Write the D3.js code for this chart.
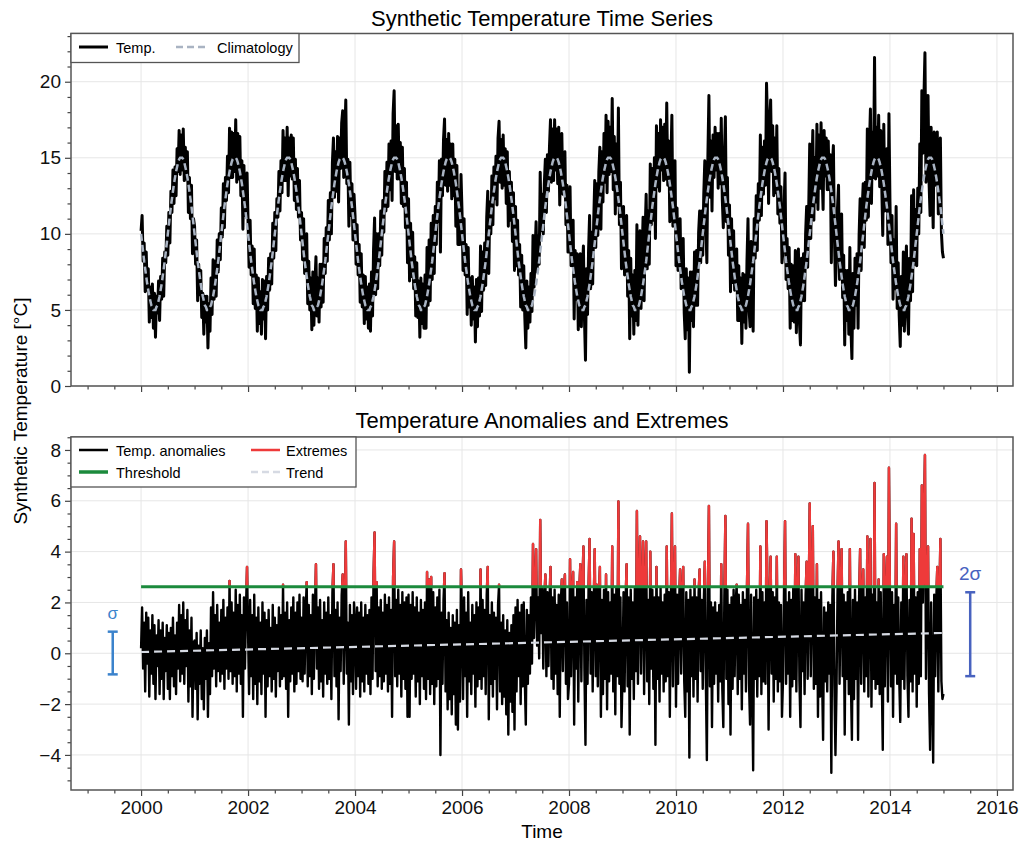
<!DOCTYPE html>
<html>
<head>
<meta charset="utf-8">
<script src="https://cdnjs.cloudflare.com/ajax/libs/d3/7.8.5/d3.min.js"></script>
<style>
    body { margin: 0; background: #ffffff; }
    svg { display: block; font-family: "Liberation Sans", Arial, Helvetica, sans-serif; }
</style>
</head>
<body>
<svg id="chart"></svg>
<script>
// weekly samples, 52 per year starting Jan 1
let startYear = 2000

// mean seasonal cycle (deg C), one value per week
let climatology = [
    10.0, 9.4, 8.8, 8.2, 7.7, 7.2, 6.7, 6.3, 5.9, 5.6, 5.3, 5.2, 5.0,
    5.0, 5.0, 5.2, 5.3, 5.6, 5.9, 6.3, 6.7, 7.2, 7.7, 8.2, 8.8, 9.4,
    10.0, 10.6, 11.2, 11.8, 12.3, 12.8, 13.3, 13.7, 14.1, 14.4, 14.7, 14.9, 15.0,
    15.0, 15.0, 14.9, 14.7, 14.4, 14.1, 13.7, 13.3, 12.8, 12.3, 11.8, 11.2, 10.6
]

// temperature anomalies, one row per year
let anomalies = [
    [0.2, 1.8, -0.6, 1.2, -1.5, 1.6, -0.4, 1.4, -1.7, 0.9, -0.8, 1.5, -1.2, 1.1, -1.8, 0.7, -0.5, 1.3, -1.6, 0.9, -1.0, 1.2, -1.8, 0.6, -0.7, 1.1, -1.4, 0.8, -1.8, 1.0, -0.9, 1.4, -1.3, 0.7, -1.6, 1.2, -0.6, 1.9, -1.1, 1.5, -0.8, 2.0, -1.2, 1.3, -0.5, 1.7, -1.9, 0.9, -1.3, 1.4, -2.5, 0.4],
    [0.5, -1.4, 0.8, -2.6, 0.3, -1.2, 0.9, -1.8, 0.2, -2.2, 0.6, -1.0, 0.9, -2.5, 0.4, -1.6, 1.8, -0.9, 2.4, -0.6, 1.5, -1.3, 1.9, -0.7, 1.2, -1.1, 1.7, -0.8, 2.1, -1.4, 1.4, -0.6, 1.8, -1.0, 2.85, -0.7, 2.0, -1.2, 1.6, -0.9, 2.5, -1.5, 1.9, -0.8, 2.3, -1.2, 1.5, -2.5, 2.2, -0.6, 1.8, 3.4],
    [0.8, -1.6, 2.1, -0.9, 1.5, -1.8, 2.3, -1.2, 1.4, -2.0, 1.8, -1.1, 1.2, -1.6, 2.0, -0.8, 1.6, -2.5, 1.3, -1.3, 1.7, -0.9, 1.0, -1.5, 1.9, -1.0, 1.4, -1.7, 1.1, -0.7, 1.8, -1.3, 1.5, -1.0, 2.7, -0.9, 1.6, -1.4, 2.0, -2.5, 1.3, -1.1, 1.8, -0.8, 2.2, -1.5, 1.6, -1.2, 2.0, -0.7, 2.3, -1.0],
    [1.4, -1.1, 2.2, -0.8, 1.6, 2.8, -1.3, 1.9, -0.9, 1.5, -1.6, 2.3, -1.0, 1.7, 3.5, -0.6, 1.8, -1.4, 2.1, -1.1, 1.3, -1.7, 2.0, -0.8, 1.6, -1.2, 2.2, -1.0, 1.5, -1.8, 2.4, 3.5, -0.9, 1.7, -1.3, 2.0, -2.6, 1.4, -0.7, 2.3, 3.1, -1.2, 1.6, 4.4, -0.8, 1.2, -2.8, 1.9, -1.1, 1.5, -1.6, 2.0],
    [1.2, -1.4, 1.8, -0.9, 1.6, -1.7, 2.0, -1.1, 1.4, -1.5, 1.9, -0.8, 1.5, -1.2, 1.7, -1.6, 2.2, -1.0, 3.1, 4.75, -0.7, 2.8, -1.3, 1.8, -0.9, 2.1, -1.4, 1.6, -1.1, 2.3, -0.8, 1.9, -1.5, 2.2, -1.2, 1.7, -2.5, 3.0, 4.4, -0.9, 2.1, -1.3, 2.5, -0.8, 1.9, -1.7, 2.4, -1.0, 2.0, -1.4, 2.2, -2.5],
    [2.3, -2.5, 1.9, -1.0, 2.4, -0.8, 1.8, -1.7, 2.2, -1.1, 1.6, -2.0, 2.1, -0.9, 1.7, -1.4, 2.0, -1.8, 3.2, -1.0, 2.9, -1.6, 3.0, -1.2, 2.4, -2.0, 1.8, -1.3, 2.2, -1.0, 2.5, -4.0, 1.6, -1.2, 2.1, 3.15, -1.5, 1.3, -2.2, 1.6, -1.8, 1.0, -2.4, 1.5, -1.6, 1.2, -2.8, 1.7, -3.0, 1.1, -1.9, 3.3],
    [1.4, -1.8, 2.2, -0.9, 1.6, -2.5, 2.4, -1.1, 1.2, -1.6, 1.9, -0.8, 1.5, -2.1, 2.0, -1.3, 1.8, -1.0, 3.3, -1.4, 2.1, -0.9, 1.7, -1.6, 2.3, 3.4, -2.6, 1.5, -1.2, 2.0, -1.7, 1.6, -1.0, 1.4, -2.2, 1.9, 2.7, -1.5, 1.2, -2.0, 1.5, -1.7, 0.9, -2.4, 1.3, -3.2, 0.8, -1.9, 1.1, -2.3, 1.5, -3.0],
    [1.8, -1.5, 2.1, -0.9, 1.6, -2.0, 1.9, -1.3, 2.0, -1.0, -2.8, 1.7, -1.2, 1.5, -0.8, 2.2, -0.4, 4.3, 0.6, 2.4, 4.1, 0.3, 2.2, -0.2, 5.25, 0.8, 2.6, -0.6, 2.1, 3.1, -0.9, 2.4, -0.5, 2.0, 3.4, -1.0, 2.2, -1.4, 2.5, -0.8, 1.9, -1.6, 2.3, -2.5, 2.0, 2.9, -0.7, 2.4, 3.1, -1.2, 2.0, -1.8],
    [-1.2, 3.7, -0.9, 2.4, 3.2, -2.8, 2.2, -0.6, 2.8, -1.9, 2.5, 3.5, -1.1, 2.6, 4.2, -0.7, -3.6, 2.1, -1.2, 2.6, 4.5, -0.8, 2.4, -1.5, 2.0, 4.1, -0.9, 2.7, -1.3, 2.3, 3.4, -2.5, 2.1, -1.6, 2.5, -1.0, 3.1, -2.2, 2.4, -1.1, 2.0, -0.8, 4.2, -1.5, 2.3, -2.4, 2.6, -0.9, 5.97, -1.2, 2.2, -2.9],
    [-0.9, 2.4, -1.5, 2.1, 3.5, -1.3, 2.2, -3.2, 2.5, -1.0, 2.0, -1.8, 2.6, -0.7, 5.6, -1.2, 2.3, 4.6, -0.8, 2.2, 4.4, -1.6, 2.4, 4.4, -1.1, 2.1, -2.0, 4.0, -0.6, 2.5, -1.4, 2.2, -3.6, 3.4, -1.0, 2.2, -1.9, 2.6, -0.8, 2.0, -1.5, 2.3, -1.1, 4.2, -0.9, 2.4, -2.5, 1.9, 5.5, -1.3, 2.5, 4.2],
    [-2.1, 2.3, -1.2, 2.0, 3.3, -0.8, 2.2, 3.4, -1.1, -2.5, 2.4, -1.5, 2.1, -4.1, 2.5, -0.9, 2.2, -1.7, 2.9, -1.0, 2.2, -1.9, 2.4, 3.3, -0.7, 2.1, -1.4, 2.0, 3.6, -1.0, -4.2, 2.3, 5.8, -1.3, 2.0, -2.9, 1.8, -1.2, 2.0, -0.8, 1.6, -1.9, 1.9, -1.1, 3.5, -1.4, -2.9, 2.2, 5.4, -1.0, 2.5, -2.0],
    [1.9, -3.2, 2.2, -1.4, 2.5, -0.9, 2.0, 2.7, -1.6, 2.3, -1.0, 1.9, -2.2, 2.4, -0.8, 2.1, -1.5, 2.6, 5.1, -1.2, -2.8, 2.3, -1.0, -4.6, 2.2, -1.0, 2.5, -1.7, 2.1, -0.9, 4.2, -1.6, 2.4, -1.1, 2.0, -1.2, 5.2, 2.3, -3.0, 2.1, 3.8, -0.8, 2.4, -1.9, 2.2, -1.0, 3.8, -1.5, 2.0, -1.1, 1.9, -2.5],
    [-1.1, 2.3, 5.2, -1.2, 2.0, -0.8, 2.4, -2.5, 2.1, -1.3, 2.6, -1.0, 3.9, -1.5, 2.2, 3.8, -1.1, -2.9, 2.5, -0.7, 2.0, -1.6, 2.3, 3.6, -1.0, 2.2, 5.9, -0.9, 2.4, 5.0, -1.4, 2.2, -1.2, 3.5, -2.5, 2.1, -1.7, 2.4, -0.9, -3.4, 1.8, -1.1, 1.6, -1.5, 2.0, -0.8, 1.9, -4.7, 2.2, 4.0, -1.3, -4.0],
    [-1.5, 2.3, 4.4, -1.2, 2.2, 4.1, -0.9, 2.3, -3.2, 2.0, -1.0, 2.4, -1.6, 4.1, -1.1, -3.4, 2.1, -1.8, 2.5, -1.0, 2.0, -3.4, 2.2, 4.1, -1.2, 2.3, 3.3, -1.5, 2.2, -0.9, 4.6, -1.7, 2.4, 4.5, -2.1, 2.3, -1.0, 6.7, -1.4, 2.0, -1.2, 2.9, -1.6, 2.4, -0.8, -3.8, 3.9, -1.3, 2.2, 3.8, -1.9, 7.3],
    [2.1, -1.3, 2.4, -2.5, 1.9, -0.8, 5.1, -1.2, 2.2, -1.0, -2.7, 2.0, -1.0, 3.8, -1.4, 2.3, 3.9, -0.9, -2.5, 2.1, -1.1, 5.3, -1.5, 4.7, -0.8, 2.2, -2.1, 2.4, -1.2, 4.1, -0.9, 6.6, 2.0, 5.2, 7.8, -1.0, 2.5, 4.2, -1.6, -3.8, 2.0, -1.2, -4.3, 2.3, -0.9, 2.1, 3.4, -1.5, 2.0, 4.5, -1.1, -1.8]
]
let lastAnomaly = -1.6   // value on 1 Jan 2015

let threshold = 2.62
let trend = [[2000, 0.05], [2015, 0.8]]
let sigmaBars = [
    { label: 'σ', year: 1999.47, low: -0.83, high: 0.85, color: '#3b83cc', size: 17 },
    { label: '2σ', year: 2015.5, low: -0.9, high: 2.4, color: '#4862bf', size: 19 }
]

let yearTicks = [2000, 2002, 2004, 2006, 2008, 2010, 2012, 2014, 2016]
let topTicks = [0, 5, 10, 15, 20]
let bottomTicks = [-4, -2, 0, 2, 4, 6, 8]

let width = 1023
let height = 843
let left = 71
let right = 1013
let top1 = 33.5, bottom1 = 386
let top2 = 437, bottom2 = 790

let svg = d3.select('#chart').attr('width', width).attr('height', height)

// build the series from the arrays
let series = []
anomalies.forEach((row, y) => {
    row.forEach((a, w) => {
        let k = Math.round(w / row.length * 52) % 52
        series.push({ t: startYear + y + w / row.length, clim: climatology[k], anom: a, temp: climatology[k] + a })
    })
})
series.push({ t: startYear + anomalies.length, clim: climatology[0], anom: lastAnomaly, temp: climatology[0] + lastAnomaly })

let xScale = d3.scaleLinear().domain([1998.69, 2016.3]).range([left, right])
let yTop = d3.scaleLinear().domain([0, 23.17]).range([bottom1, top1])
let yBot = d3.scaleLinear().domain([-5.38, 8.51]).range([bottom2, top2])

let minorX = d3.range(1999, 2016.3, 0.5).filter(v => v % 2 !== 0)
let minorTop = d3.range(0, 23.2, 1).filter(v => v % 5 !== 0)
let minorBot = d3.range(-5, 8.6, 0.5).filter(v => v % 2 !== 0)

let drawGrid = (yScale, yTicks, y0, y1) => {
    let g = svg.append('g').attr('stroke', '#e6e6e6').attr('stroke-width', 1)
    g.selectAll('line.v')
        .data(yearTicks)
        .enter()
        .append('line')
        .attr('x1', d => xScale(d)).attr('x2', d => xScale(d))
        .attr('y1', y0).attr('y2', y1)
    g.selectAll('line.h')
        .data(yTicks)
        .enter()
        .append('line')
        .attr('x1', left).attr('x2', right)
        .attr('y1', d => yScale(d)).attr('y2', d => yScale(d))
}

let styleAxis = (g) => {
    g.select('.domain').remove()
    g.selectAll('line').attr('stroke', '#444').attr('stroke-width', 1.2)
    g.selectAll('text').attr('font-size', 19).attr('fill', '#111')
        .attr('font-family', '"Liberation Sans", Arial, Helvetica, sans-serif')
}

let drawAxes = (yScale, yTicks, yMinor, y0, y1, xLabels) => {
    let gx = svg.append('g')
        .attr('transform', 'translate(0,' + y1 + ')')
        .call(d3.axisBottom(xScale).tickValues(yearTicks).tickSize(6).tickPadding(5)
            .tickFormat(xLabels ? d3.format('d') : ''))
    styleAxis(gx)
    let gxm = svg.append('g')
        .attr('transform', 'translate(0,' + y1 + ')')
        .call(d3.axisBottom(xScale).tickValues(minorX).tickSize(3.5).tickFormat(''))
    styleAxis(gxm)

    let gy = svg.append('g')
        .attr('transform', 'translate(' + left + ',0)')
        .call(d3.axisLeft(yScale).tickValues(yTicks).tickSize(6).tickPadding(4))
    styleAxis(gy)
    let gym = svg.append('g')
        .attr('transform', 'translate(' + left + ',0)')
        .call(d3.axisLeft(yScale).tickValues(yMinor).tickSize(3.5).tickFormat(''))
    styleAxis(gym)

    // frame
    svg.append('rect')
        .attr('x', left).attr('y', y0)
        .attr('width', right - left).attr('height', y1 - y0)
        .attr('fill', 'none').attr('stroke', '#555').attr('stroke-width', 1.5)
}

let drawTop = () => {
    drawGrid(yTop, topTicks, top1, bottom1)

    svg.append('path')
        .datum(series)
        .attr('fill', 'none')
        .attr('stroke', '#000')
        .attr('stroke-width', 3)
        .attr('stroke-linejoin', 'round')
        .attr('d', d3.line().x(d => xScale(d.t)).y(d => yTop(d.temp)))

    svg.append('path')
        .datum(series)
        .attr('fill', 'none')
        .attr('stroke', '#a9b3c2')
        .attr('stroke-width', 2.5)
        .attr('stroke-dasharray', '7,4')
        .attr('d', d3.line().x(d => xScale(d.t)).y(d => yTop(d.clim)))

    drawAxes(yTop, topTicks, minorTop, top1, bottom1, false)

    svg.append('text')
        .attr('x', (left + right) / 2).attr('y', 26)
        .attr('text-anchor', 'middle')
        .attr('font-size', 22)
        .text('Synthetic Temperature Time Series')

    // legend
    let lg = svg.append('g')
    lg.append('rect')
        .attr('x', left).attr('y', top1).attr('width', 228).attr('height', 29)
        .attr('fill', '#fff').attr('stroke', '#555').attr('stroke-width', 1.3)
    lg.append('line').attr('x1', 79).attr('x2', 108).attr('y1', 47).attr('y2', 47)
        .attr('stroke', '#000').attr('stroke-width', 3)
    lg.append('text').attr('x', 116).attr('y', 52.5).attr('font-size', 14.5).text('Temp.')
    lg.append('line').attr('x1', 176).attr('x2', 209).attr('y1', 47).attr('y2', 47)
        .attr('stroke', '#a9b3c2').attr('stroke-width', 2.5).attr('stroke-dasharray', '7,4')
    lg.append('text').attr('x', 217).attr('y', 52.5).attr('font-size', 14.5).text('Climatology')
}

let drawBottom = () => {
    drawGrid(yBot, bottomTicks, top2, bottom2)

    let anomLine = d3.line().x(d => xScale(d.t)).y(d => yBot(d.anom))

    svg.append('path')
        .datum(series)
        .attr('fill', 'none')
        .attr('stroke', '#000')
        .attr('stroke-width', 2.4)
        .attr('stroke-linejoin', 'round')
        .attr('d', anomLine)

    // extremes: the part of the anomaly line above the threshold
    svg.append('clipPath').attr('id', 'above')
        .append('rect')
        .attr('x', left).attr('y', top2)
        .attr('width', right - left).attr('height', yBot(threshold) - top2)

    svg.append('path')
        .datum(series)
        .attr('clip-path', 'url(#above)')
        .attr('fill', 'none')
        .attr('stroke', '#ee3a3a')
        .attr('stroke-width', 2.4)
        .attr('stroke-linejoin', 'round')
        .attr('d', anomLine)

    svg.append('line')
        .attr('x1', xScale(2000)).attr('x2', xScale(2015))
        .attr('y1', yBot(threshold)).attr('y2', yBot(threshold))
        .attr('stroke', '#1b8a3c').attr('stroke-width', 3)

    svg.append('path')
        .datum(trend)
        .attr('fill', 'none')
        .attr('stroke', '#d6dae3')
        .attr('stroke-width', 2.2)
        .attr('stroke-dasharray', '8,5')
        .attr('d', d3.line().x(d => xScale(d[0])).y(d => yBot(d[1])))

    // sigma bars
    sigmaBars.forEach(b => {
        let x = xScale(b.year)
        let g = svg.append('g').attr('stroke', b.color).attr('stroke-width', 2.5)
        g.append('line').attr('x1', x).attr('x2', x).attr('y1', yBot(b.low)).attr('y2', yBot(b.high))
        g.append('line').attr('x1', x - 5).attr('x2', x + 5).attr('y1', yBot(b.low)).attr('y2', yBot(b.low))
        g.append('line').attr('x1', x - 5).attr('x2', x + 5).attr('y1', yBot(b.high)).attr('y2', yBot(b.high))
        svg.append('text')
            .attr('x', x).attr('y', yBot(b.high) - 19)
            .attr('dy', '0.35em')
            .attr('text-anchor', 'middle')
            .attr('font-size', b.size)
            .attr('fill', b.color)
            .text(b.label)
    })

    drawAxes(yBot, bottomTicks, minorBot, top2, bottom2, true)

    svg.append('text')
        .attr('x', (left + right) / 2).attr('y', 428)
        .attr('text-anchor', 'middle')
        .attr('font-size', 22)
        .text('Temperature Anomalies and Extremes')

    let lg = svg.append('g')
    lg.append('rect')
        .attr('x', left).attr('y', top2).attr('width', 285).attr('height', 50)
        .attr('fill', '#fff').attr('stroke', '#555').attr('stroke-width', 1.3)
    let items = [
        { name: 'Temp. anomalies', color: '#000', dash: null, x: 79, y: 450, w: 2.5 },
        { name: 'Extremes', color: '#ee3a3a', dash: null, x: 251, y: 450, w: 2.5 },
        { name: 'Threshold', color: '#1b8a3c', dash: null, x: 79, y: 472, w: 3.5 },
        { name: 'Trend', color: '#d6dae3', dash: '7,4', x: 251, y: 472, w: 2.5 }
    ]
    items.forEach(it => {
        lg.append('line')
            .attr('x1', it.x).attr('x2', it.x + 29).attr('y1', it.y).attr('y2', it.y)
            .attr('stroke', it.color).attr('stroke-width', it.w)
            .attr('stroke-dasharray', it.dash)
        lg.append('text')
            .attr('x', it.x + (it.x > 200 ? 35 : 37)).attr('y', it.y + 5.5)
            .attr('font-size', 14.5)
            .text(it.name)
    })
}

drawTop()
drawBottom()

// shared labels
svg.append('text')
    .attr('transform', 'translate(27,411) rotate(-90)')
    .attr('text-anchor', 'middle')
    .attr('font-size', 19)
    .text('Synthetic Temperature [°C]')

svg.append('text')
    .attr('x', (left + right) / 2).attr('y', 838)
    .attr('text-anchor', 'middle')
    .attr('font-size', 19)
    .text('Time')
</script>
</body>
</html>
